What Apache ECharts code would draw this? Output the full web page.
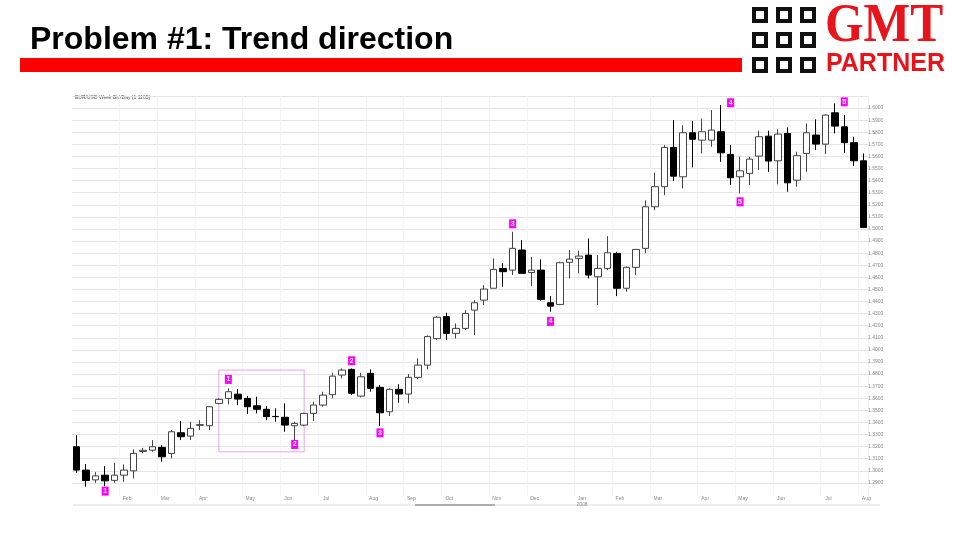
<!DOCTYPE html>
<html><head><meta charset="utf-8">
<script src="https://cdn.jsdelivr.net/npm/echarts@6/dist/echarts.min.js"></script>
<style>html,body{margin:0;padding:0;background:#fff}#c{width:960px;height:540px}</style>
</head><body><div id="c"></div>
<script>
const weeks = [
'2007-01-01','2007-01-08','2007-01-15','2007-01-22','2007-01-29','2007-02-05','2007-02-12','2007-02-19','2007-02-26',
'2007-03-05','2007-03-12','2007-03-19','2007-03-26','2007-04-02','2007-04-09','2007-04-16','2007-04-23','2007-04-30',
'2007-05-07','2007-05-14','2007-05-21','2007-05-28','2007-06-04','2007-06-11','2007-06-18','2007-06-25',
'2007-07-02','2007-07-09','2007-07-16','2007-07-23','2007-07-30','2007-08-06','2007-08-13','2007-08-20','2007-08-27',
'2007-09-03','2007-09-10','2007-09-17','2007-09-24','2007-10-01','2007-10-08','2007-10-15','2007-10-22','2007-10-29',
'2007-11-05','2007-11-12','2007-11-19','2007-11-26','2007-12-03','2007-12-10','2007-12-17','2007-12-24','2007-12-31',
'2008-01-07','2008-01-14','2008-01-21','2008-01-28','2008-02-04','2008-02-11','2008-02-18','2008-02-25',
'2008-03-03','2008-03-10','2008-03-17','2008-03-24','2008-03-31','2008-04-07','2008-04-14','2008-04-21','2008-04-28',
'2008-05-05','2008-05-12','2008-05-19','2008-05-26','2008-06-02','2008-06-09','2008-06-16','2008-06-23','2008-06-30',
'2008-07-07','2008-07-14','2008-07-21','2008-07-28','2008-08-04'];

const openP = [1.3199,1.3006,1.2925,1.2964,1.2921,1.2964,1.3000,1.3160,1.3171,1.3194,1.3144,1.3315,1.3287,1.3376,1.3373,1.3558,1.3599,1.3634,1.3599,1.3538,1.3509,1.3450,1.3443,1.3373,1.3378,1.3475,1.3544,1.3630,1.3792,1.3839,1.3618,1.3806,1.3690,1.3489,1.3674,1.3635,1.3773,1.3874,1.4093,1.4275,1.4137,1.4178,1.4329,1.4412,1.4510,1.4674,1.4660,1.4826,1.4640,1.4660,1.4390,1.4376,1.4724,1.4757,1.4784,1.4605,1.4674,1.4798,1.4510,1.4683,1.4840,1.5184,1.5350,1.5675,1.5432,1.5796,1.5735,1.5735,1.5804,1.5617,1.5432,1.5460,1.5603,1.5768,1.5564,1.5790,1.5404,1.5625,1.5777,1.5702,1.5961,1.5845,1.5714,1.5564];
const closeP = [1.3006,1.2920,1.2958,1.2917,1.2964,1.3006,1.3144,1.3170,1.3199,1.3116,1.3323,1.3282,1.3351,1.3382,1.3530,1.3591,1.3654,1.3593,1.3530,1.3509,1.3448,1.3448,1.3378,1.3392,1.3475,1.3544,1.3626,1.3783,1.3833,1.3641,1.3778,1.3682,1.3480,1.3674,1.3635,1.3773,1.3874,1.4110,1.4270,1.4137,1.4178,1.4302,1.4390,1.4503,1.4666,1.4647,1.4840,1.4633,1.4660,1.4418,1.4362,1.4721,1.4751,1.4776,1.4619,1.4674,1.4803,1.4510,1.4683,1.4831,1.5184,1.5350,1.5675,1.5437,1.5796,1.5742,1.5804,1.5818,1.5630,1.5424,1.5481,1.5578,1.5763,1.5562,1.5785,1.5382,1.5606,1.5796,1.5702,1.5942,1.5851,1.5714,1.5564,1.5013];
const highP = [1.3295,1.3056,1.2989,1.3039,1.3066,1.3053,1.3177,1.3190,1.3254,1.3213,1.3337,1.3411,1.3406,1.3419,1.3535,1.3600,1.3682,1.3676,1.3618,1.3613,1.3535,1.3517,1.3558,1.3406,1.3480,1.3571,1.3654,1.3811,1.3847,1.3847,1.3811,1.3839,1.3709,1.3682,1.3717,1.3800,1.3930,1.4120,1.4280,1.4307,1.4219,1.4329,1.4412,1.4536,1.4757,1.4716,1.4977,1.4908,1.4770,1.4749,1.4445,1.4730,1.4826,1.4820,1.4922,1.4784,1.4941,1.4812,1.4690,1.4835,1.5237,1.5466,1.5694,1.5901,1.5859,1.5895,1.5914,1.5983,1.6025,1.5694,1.5597,1.5597,1.5813,1.5813,1.5824,1.5840,1.5639,1.5873,1.5907,1.5950,1.6039,1.5942,1.5763,1.5625];
const lowP = [1.2984,1.2869,1.2901,1.2873,1.2901,1.2909,1.2937,1.3144,1.3158,1.3075,1.3103,1.3254,1.3254,1.3337,1.3337,1.3550,1.3550,1.3543,1.3469,1.3475,1.3419,1.3406,1.3323,1.3254,1.3370,1.3411,1.3530,1.3600,1.3765,1.3626,1.3607,1.3654,1.3370,1.3453,1.3563,1.3558,1.3757,1.3840,1.4081,1.4081,1.4095,1.4164,1.4123,1.4371,1.4510,1.4522,1.4619,1.4633,1.4528,1.4407,1.4316,1.4371,1.4591,1.4633,1.4591,1.4371,1.4660,1.4445,1.4481,1.4619,1.4800,1.5156,1.5280,1.5399,1.5336,1.5509,1.5625,1.5680,1.5556,1.5363,1.5295,1.5363,1.5487,1.5473,1.5369,1.5308,1.5349,1.5473,1.5653,1.5620,1.5791,1.5630,1.5520,1.5013];

const monthNames = ['Jan','Feb','Mar','Apr','May','Jun','Jul','Aug','Sep','Oct','Nov','Dec'];

const markerLabels = ['1','1','2','2','3','3','4','4','5','5'];
const markerWeeks  = [3,16,23,29,32,46,50,69,70,81];
const markerPrices = [1.2832,1.3756,1.3218,1.3910,1.3314,1.5043,1.4236,1.6044,1.5225,1.6052];

const boxWeeks  = [15,24];
const boxPrices = [1.3833,1.3157];

const yMin = 1.28, yMax = 1.61, yStep = 0.01;

function isMonthStart(i){
  if (i === 0) return false;
  const d = parseInt(weeks[i].slice(8,10),10);
  return d <= 7;
}

const ohlc = weeks.map((w,i)=>[openP[i],closeP[i],lowP[i],highP[i]]);

const chart = echarts.init(document.getElementById('c'), null, {renderer:'canvas'});
const FONT = '"Liberation Sans", Arial, sans-serif';

const squares = [];
[752,776,800].forEach(x=>{[7,32,57].forEach(y=>{
  squares.push({type:'rect', shape:{x:x+2,y:y+2,width:12,height:12}, style:{fill:'#fff',stroke:'#111',lineWidth:4}, silent:true});
});});

chart.setOption({
  animation:false,
  backgroundColor:'#fff',
  title:{
    text:'Problem #1: Trend direction', left:25, top:19,
    textStyle:{fontFamily:FONT, fontSize:32, fontWeight:'bold', color:'#000'}
  },
  grid:{left:72, right:92, top:96, bottom:45, containLabel:false},
  xAxis:{
    type:'category', data:weeks, boundaryGap:true,
    axisLine:{show:false}, axisTick:{show:false},
    axisLabel:{
      interval:(i)=>isMonthStart(i),
      formatter:(v,i)=>{
        const m = parseInt(v.slice(5,7),10)-1;
        let s = monthNames[m];
        if (m===0) s += '\n' + v.slice(0,4);
        return s;
      },
      fontSize:5, color:'#888', fontFamily:FONT, margin:1, lineHeight:6, padding:[0,0,0,6]
    },
    splitLine:{show:true, interval:(i)=>isMonthStart(i), lineStyle:{color:'#f4f4f4', width:1}}
  },
  yAxis:{
    type:'value', position:'right', min:yMin, max:yMax, interval:yStep, scale:true,
    axisLine:{show:false}, axisTick:{show:false},
    axisLabel:{formatter:(v)=>v.toFixed(4), fontSize:5, color:'#888', fontFamily:FONT, margin:0, showMinLabel:false, showMaxLabel:false},
    splitLine:{show:true, showMinLine:false, lineStyle:{color:'#e4e4e4', width:1}}
  },
  series:[{
    type:'candlestick', data:ohlc, barWidth:7,
    itemStyle:{color:'#ffffff', color0:'#000000', borderColor:'#444', borderColor0:'#000', borderWidth:1},
    markPoint:{
      symbol:'rect', symbolSize:[7,9], silent:true,
      itemStyle:{color:'#ff00ff'},
      label:{show:true, position:'inside', color:'#fff', fontSize:7, fontWeight:'bold', fontFamily:FONT, formatter:(p)=>p.name},
      data: markerLabels.map((t,k)=>({name:t, coord:[weeks[markerWeeks[k]], markerPrices[k]]}))
    },
    markArea:{
      silent:true,
      itemStyle:{color:'rgba(0,0,0,0)', borderColor:'#e8a2ea', borderWidth:1},
      data:[[{coord:[weeks[boxWeeks[0]], boxPrices[0]]},{coord:[weeks[boxWeeks[1]], boxPrices[1]]}]]
    }
  }],
  graphic:[
    {type:'rect', shape:{x:20,y:58,width:722,height:14}, style:{fill:'#ff0000'}, silent:true},
    ...squares,
    {type:'text', x:825, y:27, scaleX:0.9, style:{text:'GMT', x:0, y:0, font:'bold 55px "Liberation Serif", "Times New Roman", serif', fill:'#e8141c', verticalAlign:'middle', align:'left'}, silent:true},
    {type:'text', x:826, y:64, style:{text:'PARTNER', font:'bold 25px "Liberation Sans", Arial, sans-serif', fill:'#e8141c', verticalAlign:'middle', align:'left'}, silent:true},
    {type:'text', x:75, y:98, style:{text:'EUR/USD Week Bid/Day (1:1165)', font:'5px "Liberation Sans", Arial, sans-serif', fill:'#555', verticalAlign:'middle'}, silent:true},
    {type:'line', shape:{x1:73,y1:505,x2:880,y2:505}, style:{stroke:'#dddddd', lineWidth:1}, silent:true},
    {type:'line', shape:{x1:415,y1:505,x2:495,y2:505}, style:{stroke:'#999999', lineWidth:1.5}, silent:true}
  ]
});
</script></body></html>
